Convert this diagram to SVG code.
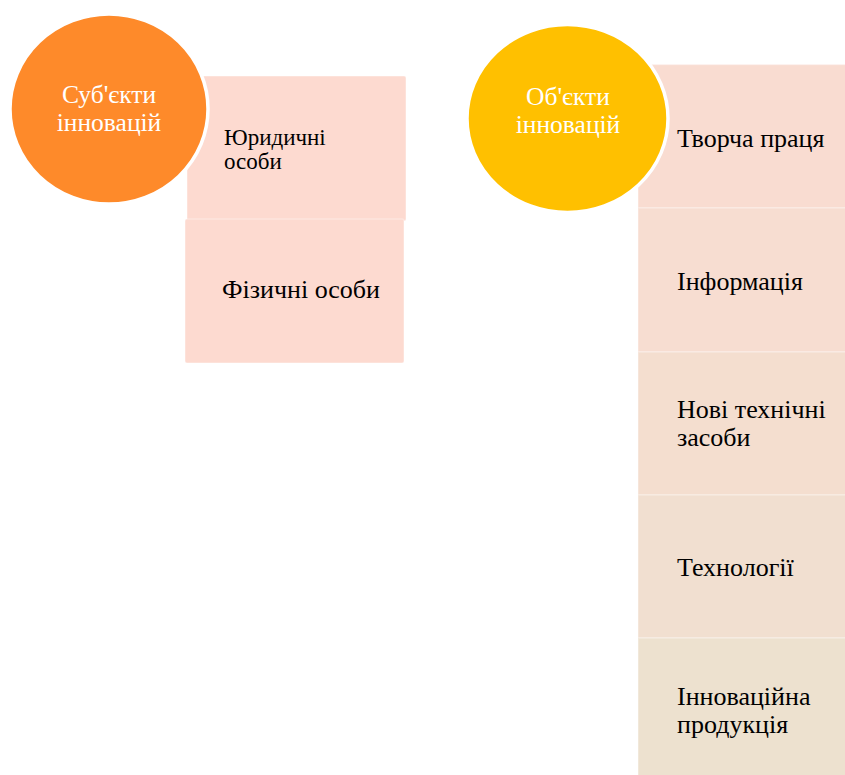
<svg xmlns="http://www.w3.org/2000/svg" width="845" height="775" viewBox="0 0 845 775">
<style>
.box{stroke:#ffffff;stroke-opacity:0.3;stroke-width:1.5}
text{font-family:'Liberation Serif','Times New Roman',serif}
.t{fill:#000;font-size:26px}
.ct{fill:#fff;font-size:25.5px;text-anchor:middle}
.circ{stroke:#fff;stroke-width:3.5}
</style>
<rect width="845" height="775" fill="#fff"/>
<g id="connectors"></g>
<g id="n-legal">
<rect class="box" x="187" y="76" width="219" height="145" rx="2" fill="#FDDAD0"/>
<text class="t" style="font-size:23px" x="224" y="145">Юридичні</text>
<text class="t" style="font-size:23px" x="224" y="169">особи</text>
</g>
<g id="n-physical">
<rect class="box" x="185" y="219" width="219" height="144" rx="2" fill="#FDDAD0"/>
<text class="t" x="222" y="298">Фізичні особи</text>
</g>
<g id="n-subjects">
<ellipse class="circ" cx="109" cy="109" rx="99" ry="95" fill="#FE8A2A"/>
<text class="ct" x="109" y="103">Суб'єкти</text>
<text class="ct" x="109" y="131">інновацій</text>
</g>
<g id="n-creative">
<rect class="box" x="638" y="64.5" width="215" height="143.5" fill="#F9DCD1"/>
<text class="t" x="677" y="147">Творча праця</text>
</g>
<g id="n-info">
<rect class="box" x="638" y="208" width="215" height="144" fill="#F7DDD1"/>
<text class="t" x="677" y="290">Інформація</text>
</g>
<g id="n-tech-means">
<rect class="box" x="638" y="352" width="215" height="143" fill="#F4DECF"/>
<text class="t" x="677" y="418">Нові технічні</text>
<text class="t" x="677" y="446">засоби</text>
</g>
<g id="n-technologies">
<rect class="box" x="638" y="495" width="215" height="143" fill="#F1DFD0"/>
<text class="t" x="677" y="576">Технології</text>
</g>
<g id="n-product">
<rect class="box" x="638" y="638" width="215" height="145" fill="#EDE1CF"/>
<text class="t" x="677" y="705">Інноваційна</text>
<text class="t" x="677" y="733">продукція</text>
</g>
<g id="n-objects">
<ellipse class="circ" cx="567.5" cy="118.5" rx="100.5" ry="94" fill="#FFC000"/>
<text class="ct" x="568" y="105">Об'єкти</text>
<text class="ct" x="568" y="133">інновацій</text>
</g>
</svg>
